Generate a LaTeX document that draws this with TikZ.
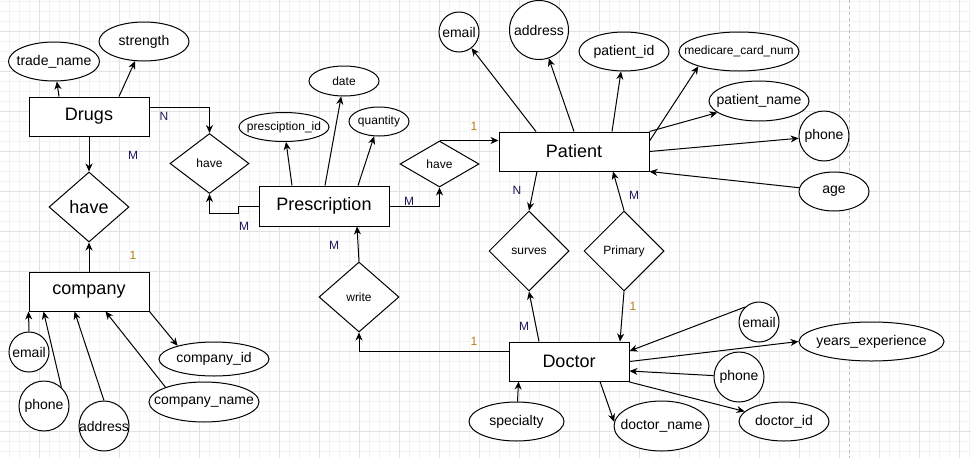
\documentclass[tikz,border=0pt]{standalone}
\usepackage{fontspec}
\setmainfont{Liberation Sans}
\usetikzlibrary{shapes.geometric,arrows.meta,calc}
\definecolor{gridminor}{RGB}{243,243,243}
\definecolor{gridmajor}{RGB}{225,225,225}
\definecolor{pagebreak}{RGB}{190,190,190}
\definecolor{cardM}{RGB}{30,20,90}
\definecolor{cardone}{RGB}{180,125,20}
\tikzset{
  entity/.style={draw,fill=white,rectangle,line width=1pt,inner sep=0pt,font=\fontsize{18}{20}\selectfont},
  attr/.style={draw,fill=white,ellipse,line width=1pt,inner sep=0pt},
  attrtext/.style={font=\fontsize{14}{16}\selectfont,inner sep=0pt},
  smalltext/.style={font=\fontsize{12}{14}\selectfont,inner sep=0pt},
  rel/.style={draw,fill=white,diamond,line width=1pt,inner sep=0pt,font=\fontsize{12}{14}\selectfont},
  conn/.style={line width=1pt,-{Stealth[length=8pt,width=7pt,inset=2.5pt]}},
  cardm/.style={text=cardM,font=\fontsize{12}{14}\selectfont,inner sep=0pt},
  cardo/.style={text=cardone,font=\fontsize{12}{14}\selectfont,inner sep=0pt},
}
\begin{document}
\begin{tikzpicture}[x=1pt,y=-1pt]
\useasboundingbox (0,0) rectangle (971,461);
\fill[white] (0,0) rectangle (971,461);
% grid
\foreach \x in {9,19,...,969} \draw[gridminor,line width=1pt] (\x,0) -- (\x,458);
\foreach \y in {1,11,...,451} \draw[gridminor,line width=1pt] (0,\y) -- (971,\y);
\foreach \x in {39,79,...,959} \draw[gridmajor,line width=1pt] (\x,0) -- (\x,458);
\foreach \y in {31,71,...,431} \draw[gridmajor,line width=1pt] (0,\y) -- (971,\y);
\draw[pagebreak,line width=1pt,dash pattern=on 3pt off 3pt] (849,0) -- (849,458);

% entities
\node[entity,minimum width=120pt,minimum height=39pt] (drugs) at (89,116.5) {Drugs};
\node[entity,minimum width=120pt,minimum height=39pt] (company) at (89,291.5) {company};
\node[entity,minimum width=130pt,minimum height=40pt] (presc) at (324,206) {Prescription};
\node[entity,minimum width=150pt,minimum height=39pt] (patient) at (574,151.5) {Patient};
\node[entity,minimum width=120pt,minimum height=39pt] (doctor) at (569,361.5) {Doctor};

% relationships
\node[rel,minimum width=79pt,minimum height=60pt] (have1) at (209.5,163.5) {have};
\node[rel,minimum width=80pt,minimum height=70pt,font=\fontsize{18}{20}\selectfont] (haveB) at (89,207) {have};
\node[rel,minimum width=79pt,minimum height=46pt] (have2) at (439.5,164) {have};
\node[rel,minimum width=80pt,minimum height=80pt] (surves) at (529,251) {surves};
\node[rel,minimum width=80pt,minimum height=80pt] (primary) at (624,251) {Primary};
\node[rel,minimum width=80pt,minimum height=70pt] (write) at (359,297) {write};

% attributes of Drugs
\node[attr,minimum width=91pt,minimum height=39pt,label={[attrtext]center:trade\_name}] (tn) at (54,61.5) {};
\node[attr,minimum width=90pt,minimum height=39pt,label={[attrtext]center:strength}] (st) at (144,41.5) {};
% attributes of company
\node[attr,minimum width=40pt,minimum height=40pt,label={[attrtext]center:email}] (cemail) at (29,352) {};
\node[attr,minimum width=50pt,minimum height=50pt,label={[attrtext]center:phone}] (cphone) at (44,406) {};
\node[attr,minimum width=50pt,minimum height=50pt,label={[attrtext]center:address}] (caddr) at (104,426) {};
\node[attr,minimum width=110pt,minimum height=40pt,label={[attrtext]center:company\_name}] (cname) at (204,402) {};
\node[attr,minimum width=110pt,minimum height=34pt,label={[attrtext]center:company\_id}] (cid) at (214,359) {};
% attributes of Prescription
\node[attr,minimum width=90pt,minimum height=29pt,label={[smalltext]center:presciption\_id}] (pid) at (284,127) {};
\node[attr,minimum width=70pt,minimum height=30pt,label={[smalltext]center:date}] (date) at (344,81) {};
\node[attr,minimum width=60pt,minimum height=29pt,label={[smalltext]center:quantity}] (qty) at (379,121.5) {};
% attributes of Patient
\node[attr,minimum width=40pt,minimum height=40pt,label={[attrtext]center:email}] (pemail) at (459,32) {};
\node[attr,minimum width=59pt,minimum height=59pt,label={[attrtext]center:address}] (paddr) at (539,30) {};
\node[attr,minimum width=90pt,minimum height=39pt,label={[attrtext]center:patient\_id}] (ppid) at (624,51.5) {};
\node[attr,minimum width=120pt,minimum height=39pt,label={[smalltext]center:medicare\_card\_num}] (mcn) at (739,51.5) {};
\node[attr,minimum width=100pt,minimum height=40pt,label={[attrtext]center:patient\_name}] (pname) at (759,101) {};
\node[attr,minimum width=50pt,minimum height=50pt,label={[attrtext]center:phone}] (pphone) at (824,136) {};
\node[attr,minimum width=70pt,minimum height=39pt,label={[attrtext]center:age}] (age) at (834,191.5) {};
% attributes of Doctor
\node[attr,minimum width=95pt,minimum height=39pt,label={[attrtext]center:specialty}] (spec) at (516.5,421.5) {};
\node[attr,minimum width=95pt,minimum height=50pt,label={[attrtext]center:doctor\_name}] (dname) at (661.5,426) {};
\node[attr,minimum width=90pt,minimum height=39pt,label={[attrtext]center:doctor\_id}] (did) at (784,421.5) {};
\node[attr,minimum width=50pt,minimum height=50pt,label={[attrtext]center:phone}] (dphone) at (739,377) {};
\node[attr,minimum width=145pt,minimum height=39pt,label={[attrtext]center:years\_experience}] (yrs) at (871.5,341.5) {};
\node[attr,minimum width=40pt,minimum height=40pt,label={[attrtext]center:email}] (demail) at (759,322) {};

% connectors: Drugs
\draw[conn] ([xshift=-30pt]drugs.north) -- (tn);
\draw[conn] ([xshift=30pt]drugs.north) -- (st);
\draw[conn] ([yshift=9.5pt]drugs.east) -| (have1.north);
\draw[conn] (drugs.south) -- (haveB.north);
% company
\draw[conn] (company.north) -- (haveB.south);
\draw[conn] (cemail.north) -- (company.south west);
\draw[conn] (cphone.47) -- ([xshift=15pt]company.south west);
\draw[conn] (caddr.north) -- ([xshift=46pt]company.south west);
\draw[conn] (cname.159) -- ([xshift=77pt]company.south west);
\draw[conn] (company.south east) -- (cid.160);
% Prescription
\draw[conn] ([xshift=-32pt]presc.north) -- (pid);
\draw[conn] ([xshift=1pt]presc.north) -- (date);
\draw[conn] ([xshift=34pt]presc.north) -- (qty);
\draw[conn] (presc.west) -- ++(-20,0) -- ++(0,7) -| (have1.south);
\draw[conn] (presc.east) -| (have2.south);
\draw[conn] (have2.north) -- (have2.north -| patient.west);
% Patient
\draw[conn] ([xshift=-38pt]patient.north) -- (pemail);
\draw[conn] (patient.north) -- (paddr);
\draw[conn] ([xshift=38pt]patient.north) -- (ppid);
\draw[conn] ([yshift=10.5pt]patient.east) -- (mcn.200);
\draw[conn] (patient.north east) -- (pname);
\draw[conn] (patient.east) -- (pphone);
\draw[conn] (age) -- (patient.south east);
\draw[conn] ([xshift=-37pt]patient.south) -- (surves.north);
\draw[conn] (primary.north) -- ([xshift=39pt]patient.south);
% Doctor
\draw[conn] (primary.south) -- ([xshift=51pt]doctor.north);
\draw[conn] ([xshift=-30pt]doctor.north) -- (surves.south);
\draw[conn] ([yshift=10pt]doctor.west) -| (write.south);
\draw[conn] (write.north) -- ([xshift=33pt]presc.south);
\draw[conn] (spec) -- ([xshift=10pt]doctor.south west);
\draw[conn] ([xshift=31pt]doctor.south) -- (dname.175);
\draw[conn] ([yshift=-0.5pt]doctor.south east) -- (did);
\draw[conn] (dphone) -- ([yshift=-9.5pt]doctor.east);
\draw[conn] (doctor.east) -- (yrs.west);
\draw[conn] (demail.133) -- ([yshift=10.5pt]doctor.east);

% cardinalities
\node[cardm] (c1) at (164,116) {N};
\node[cardm] (c2) at (133,155) {M};
\node[cardo] (c3) at (133,255) {1};
\node[cardm] (c4) at (244,226) {M};
\node[cardm] (c5) at (409,201) {M};
\node[cardo] (c6) at (474,126) {1};
\node[cardm] (c7) at (517,190) {N};
\node[cardm] (c8) at (634,195) {M};
\node[cardo] (c9) at (633,306) {1};
\node[cardm] (c10) at (524,326) {M};
\node[cardo] (c11) at (474,341) {1};
\node[cardm] (c12) at (334,245) {M};
\end{tikzpicture}
\end{document}
